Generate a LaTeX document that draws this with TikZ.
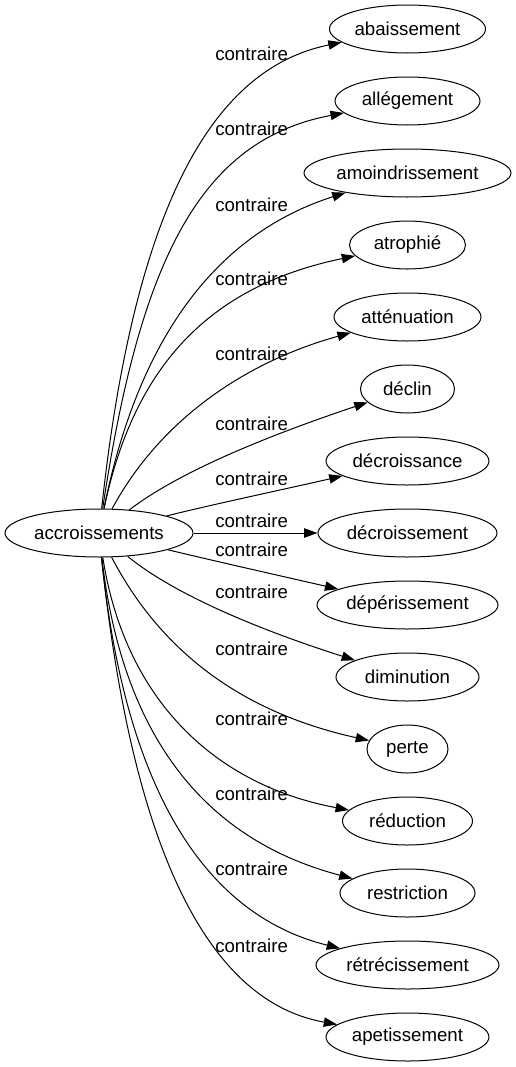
\documentclass[tikz,border=0pt]{standalone}
\usepackage{fontspec}
\setmainfont{Liberation Sans}
\usetikzlibrary{arrows.meta,shapes.geometric}
\definecolor{inkBlack}{RGB}{0, 0, 0}

\tikzset{
  wordnode/.style={draw=inkBlack, ellipse, line width=0.75pt, inner sep=0pt,
    minimum height=36pt, font=\fontsize{14pt}{16pt}\selectfont},
  relarrow/.style={draw=inkBlack, line width=0.75pt, -{Triangle[length=10pt,width=7pt]}},
  rellabel/.style={anchor=base west, inner sep=0pt, text=inkBlack,
    font=\fontsize{14pt}{16pt}\selectfont},
}

\begin{document}
\begin{tikzpicture}[x=0.75pt,y=-0.75pt]
\useasboundingbox (0,0) rectangle (516,1067);

% source word
\node[wordnode, minimum width=0.75pt*188] (accr) at (99,533) {accroissements};

% opposite words, one rank
\foreach \name/\word/\wordwd/\yy in {
    abai/abaissement/156/29, alle/allégement/145/101,
    amoi/amoindrissement/207/173, atro/atrophié/116/245,
    atte/atténuation/147/317, decl/déclin/94/389,
    decrn/décroissance/163/461, decrm/décroissement/179/533,
    depe/dépérissement/181/605, dimi/diminution/143/677,
    pert/perte/81/749, redu/réduction/130/821,
    rest/restriction/135/893, retr/rétrécissement/183/965,
    apet/apetissement/163/1037}
  \node[wordnode, minimum width=0.75pt*\wordwd] (\name) at (407.5,\yy) {\word};

% edge labels
\foreach \i/\yy in {1/60, 2/135, 3/211, 4/285, 5/360, 6/430, 7/485, 8/527,
    9/556, 10/598, 11/655, 12/725, 13/800, 14/875, 15/952}
  \node[rellabel] (lab\i) at (215,\yy) {contraire};

% edges
\draw[relarrow] (accr) .. controls (135,200) and (215,68) .. (abai);
\draw[relarrow] (accr) .. controls (140,260) and (200,140) .. (alle);
\draw[relarrow] (accr) .. controls (140,330) and (222,232) .. (amoi);
\draw[relarrow] (accr) .. controls (135,360) and (215,285) .. (atro);
\draw[relarrow] (accr) .. controls (160,420) and (245,362) .. (atte);
\draw[relarrow] (accr) .. controls (175,475) and (255,440) .. (decl);
\draw[relarrow] (accr) .. controls (210,505) and (290,488) .. (decrn);
\draw[relarrow] (accr) -- (decrm);
\draw[relarrow] (accr) .. controls (210,560) and (290,578) .. (depe);
\draw[relarrow] (accr) .. controls (175,595) and (260,630) .. (dimi);
\draw[relarrow] (accr) .. controls (160,650) and (240,712) .. (pert);
\draw[relarrow] (accr) .. controls (125,700) and (215,785) .. (redu);
\draw[relarrow] (accr) .. controls (125,760) and (225,845) .. (rest);
\draw[relarrow] (accr) .. controls (125,790) and (205,915) .. (retr);
\draw[relarrow] (accr) .. controls (130,830) and (200,1000) .. (apet);
\end{tikzpicture}
\end{document}
